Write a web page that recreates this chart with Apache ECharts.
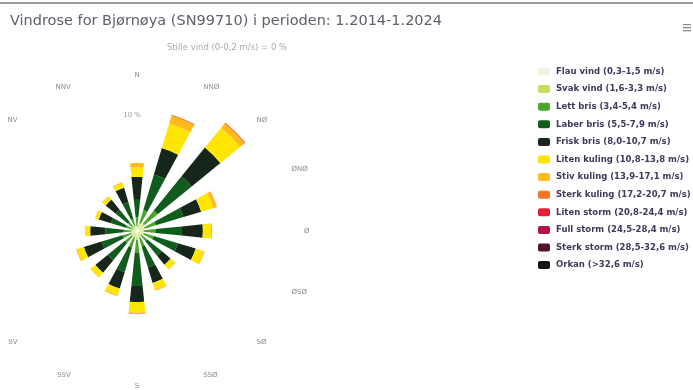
<!DOCTYPE html>
<html>
<head>
<meta charset="utf-8">
<script src="https://cdn.jsdelivr.net/npm/echarts@6/dist/echarts.min.js"></script>
<style>
  html, body { margin: 0; padding: 0; background: #ffffff; }
  #chart { width: 693px; height: 390px; }
</style>
</head>
<body>
<div id="chart"></div>
<script>
// Wind directions (clockwise from north)
const directions = ['N', 'NNØ', 'NØ', 'ØNØ', 'Ø', 'ØSØ', 'SØ', 'SSØ', 'S', 'SSV', 'SV', 'VSV', 'V', 'VNV', 'NV', 'NNV'];

// Frequency (%) per wind-speed class and direction
const flauVind    = [0.1, 0.2, 0.2, 0.2, 0.2, 0.2, 0.15, 0.2, 0.25, 0.2, 0.2, 0.15, 0.15, 0.13, 0.13, 0.15];
const svakVind    = [0.3, 0.5, 0.6, 0.5, 0.4, 0.4, 0.3, 0.4, 0.5, 0.4, 0.35, 0.35, 0.3, 0.27, 0.27, 0.3];
const lettBris    = [0.8, 1.2, 1.5, 1.0, 1.0, 0.9, 0.7, 0.8, 1.1, 0.9, 0.8, 0.8, 0.7, 0.6, 0.6, 0.65];
const laberBris   = [1.5, 3.2, 3.8, 2.5, 2.3, 2.2, 1.6, 1.9, 2.9, 2.2, 1.9, 1.9, 1.6, 1.35, 1.4, 1.5];
const friskBris   = [2.0, 2.4, 3.2, 1.6, 1.8, 1.6, 1.0, 1.4, 1.4, 1.5, 1.4, 1.6, 1.3, 1.1, 1.1, 1.3];
const litenKuling = [0.8, 2.2, 2.2, 1.1, 0.7, 0.7, 0.5, 0.6, 0.9, 0.6, 0.5, 0.6, 0.4, 0.3, 0.35, 0.4];
const stivKuling  = [0.4, 0.7, 0.5, 0.3, 0.1, 0.1, 0.05, 0.1, 0.15, 0.1, 0.05, 0.1, 0.05, 0.05, 0.05, 0.1];
const sterkKuling = [0, 0.1, 0.1, 0.02, 0, 0, 0, 0, 0, 0, 0, 0, 0, 0, 0, 0];
const litenStorm  = [0, 0, 0, 0, 0, 0, 0, 0, 0, 0, 0, 0, 0, 0, 0, 0];
const fullStorm   = [0, 0, 0, 0, 0, 0, 0, 0, 0, 0, 0, 0, 0, 0, 0, 0];
const sterkStorm  = [0, 0, 0, 0, 0, 0, 0, 0, 0, 0, 0, 0, 0, 0, 0, 0];
const orkan       = [0, 0, 0, 0, 0, 0, 0, 0, 0, 0, 0, 0, 0, 0, 0, 0];

// Radial axis ticks
const radialMax = 12.8;
const radialTicks = [10];

const classes = [
  { name: 'Flau vind (0,3-1,5 m/s)',      color: '#eef4e2', data: flauVind },
  { name: 'Svak vind (1,6-3,3 m/s)',      color: '#c3df5c', data: svakVind },
  { name: 'Lett bris (3,4-5,4 m/s)',      color: '#4aa72a', data: lettBris },
  { name: 'Laber bris (5,5-7,9 m/s)',     color: '#0f5c1c', data: laberBris },
  { name: 'Frisk bris (8,0-10,7 m/s)',    color: '#16261a', data: friskBris },
  { name: 'Liten kuling (10,8-13,8 m/s)', color: '#ffe600', data: litenKuling },
  { name: 'Stiv kuling (13,9-17,1 m/s)',  color: '#ffbb1c', data: stivKuling },
  { name: 'Sterk kuling (17,2-20,7 m/s)', color: '#f27522', data: sterkKuling },
  { name: 'Liten storm (20,8-24,4 m/s)',  color: '#e41f3c', data: litenStorm },
  { name: 'Full storm (24,5-28,4 m/s)',   color: '#b3124c', data: fullStorm },
  { name: 'Sterk storm (28,5-32,6 m/s)',  color: '#54122e', data: sterkStorm },
  { name: 'Orkan (>32,6 m/s)',            color: '#141414', data: orkan }
];

// Direction labels sit further out sideways than above/below the rose
const sidePad = [0, 8, 12, 14, 15, 14, 12, 8, 0, 8, 12, 14, 15, 14, 12, 8];
const labelRich = {};
sidePad.forEach((p, i) => {
  labelRich['d' + i] = {
    fontFamily: 'DejaVu Sans', fontSize: 7, color: '#8a8a94',
    padding: i > 0 && i < 8 ? [0, 0, 0, p] : (i > 8 ? [0, p, 0, 0] : 0)
  };
});

const chart = echarts.init(document.getElementById('chart'), null, { renderer: 'canvas' });

const polarCenter = [137, 231];
const polarRadius = 148;

chart.setOption({
  animation: false,
  backgroundColor: '#ffffff',
  title: [
    {
      text: 'Vindrose for Bjørnøya (SN99710) i perioden: 1.2014-1.2024',
      left: 221, top: 9, textAlign: 'center',
      textStyle: { fontFamily: 'DejaVu Sans', fontSize: 14.5, fontWeight: 'normal', color: '#60606e' }
    },
    {
      text: 'Stille vind (0-0,2 m/s) = 0 %',
      left: 222, top: 38, textAlign: 'center',
      textStyle: { fontFamily: 'DejaVu Sans', fontSize: 8.5, fontWeight: 'normal', color: '#a8a8b0' }
    }
  ],
  legend: {
    orient: 'vertical',
    left: 533, top: 62,
    itemWidth: 12, itemHeight: 8, itemGap: 8.6,
    icon: 'roundRect',
    textStyle: { fontFamily: 'DejaVu Sans', fontSize: 8.5, lineHeight: 8, fontWeight: 'bold', color: '#3b3b5c', padding: [0, 0, 0, 1] },
    data: classes.map(c => c.name)
  },
  polar: [
    { center: polarCenter, radius: polarRadius },
    { center: polarCenter, radius: polarRadius }
  ],
  angleAxis: [
    {
      polarIndex: 0,
      type: 'category',
      data: directions,
      startAngle: 90 + 360 / directions.length / 2,
      clockwise: true,
      boundaryGap: true,
      axisLine: { show: false },
      axisTick: { show: false },
      splitLine: { show: false },
      axisLabel: {
        margin: 4,
        formatter: (v, i) => '{d' + i + '|' + v + '}',
        rich: labelRich
      }
    },
    {
      polarIndex: 1,
      type: 'value',
      min: 0, max: 360,
      startAngle: 90,
      show: false
    }
  ],
  radiusAxis: [
    {
      polarIndex: 0,
      type: 'value',
      min: 0, max: radialMax,
      show: false
    },
    {
      polarIndex: 1,
      type: 'value',
      min: 0, max: radialMax, interval: 10,
      axisLine: { show: false },
      axisTick: { show: false },
      splitLine: { show: false },
      axisLabel: {
        show: true,
        margin: -4,
        fontFamily: 'DejaVu Sans', fontSize: 7, color: '#9a9aa2',
        formatter: v => (radialTicks.indexOf(v) >= 0 ? v + ' %' : '')
      }
    }
  ],
  graphic: [
    { type: 'rect', shape: { x: 0, y: 2, width: 693, height: 2 }, style: { fill: '#9a9a9a' }, silent: true },
    { type: 'rect', shape: { x: 683, y: 24, width: 8, height: 1.3 }, style: { fill: '#8a8a8a' }, silent: true },
    { type: 'rect', shape: { x: 683, y: 27, width: 8, height: 1.3 }, style: { fill: '#8a8a8a' }, silent: true },
    { type: 'rect', shape: { x: 683, y: 30, width: 8, height: 1.3 }, style: { fill: '#8a8a8a' }, silent: true }
  ],
  series: classes.map(c => ({
    type: 'bar',
    name: c.name,
    coordinateSystem: 'polar',
    polarIndex: 0,
    stack: 'rose',
    data: c.data,
    barCategoryGap: '48%',
    itemStyle: { color: c.color },
    emphasis: { disabled: true }
  }))
});
</script>
</body>
</html>
